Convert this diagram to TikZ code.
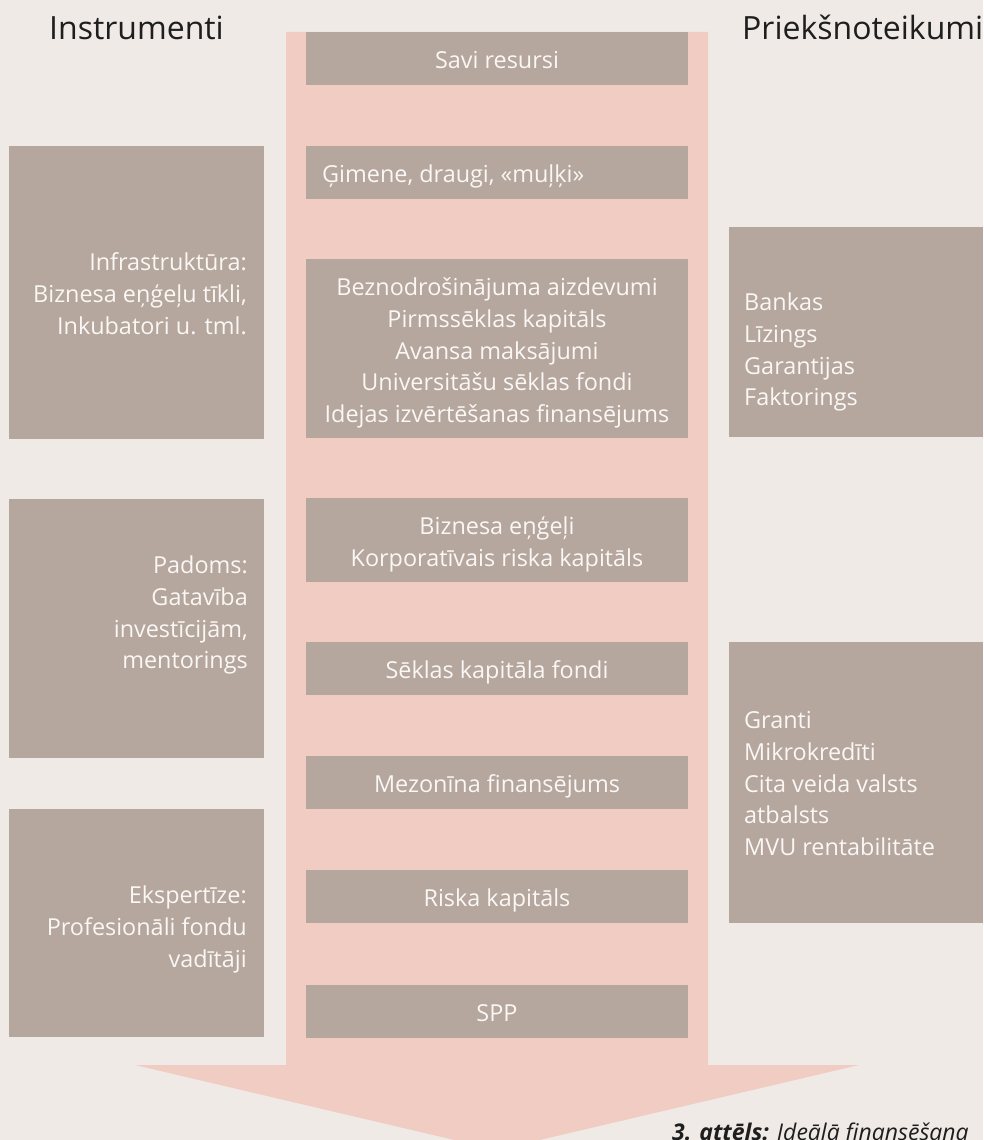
\documentclass[tikz,border=0pt]{standalone}
\usepackage{fontspec}
\setmainfont{Open Sans}
\usetikzlibrary{calc}
\definecolor{bgc}{HTML}{EFEAE6}
\definecolor{arrowc}{HTML}{F0CCC3}
\definecolor{boxc}{HTML}{B5A69E}
\definecolor{txtw}{HTML}{FAF7F5}
\definecolor{headc}{HTML}{1E1E1E}
\begin{document}
\begin{tikzpicture}[x=1pt,y=-1pt,
  box/.style={fill=boxc,draw=none,inner sep=0pt,outer sep=0pt,anchor=north west},
  onel/.style={inner sep=0pt,text=txtw,font=\fontsize{23.4}{31.7}\selectfont,text height=19pt,text depth=0pt},
  multil/.style={inner sep=0pt,text=txtw,font=\fontsize{23.4}{31.7}\selectfont},
  head/.style={inner sep=0pt,text=headc,font=\fontsize{32}{38}\selectfont,anchor=base west}]
\useasboundingbox (0,0) rectangle (983,1140);
\clip (0,0) rectangle (983,1140);
\fill[bgc] (0,0) rectangle (983,1140);
% big arrow
\fill[arrowc] (286,32) -- (708,32) -- (708,1065) -- (859,1065) -- (497,1150)
  -- (135,1065) -- (286,1065) -- cycle;
% headings
\node[head] (hl) at (49,40) {Instrumenti};
\node[head] (hr) at (742,40) {Priekšnoteikumi};
% centre boxes
\node[box,minimum width=382pt,minimum height=53pt] (cb1) at (306,32) {};
\node[box,minimum width=382pt,minimum height=53pt] (cb2) at (306,146) {};
\node[box,minimum width=382pt,minimum height=179pt] (cb3) at (306,259) {};
\node[box,minimum width=382pt,minimum height=84pt] (cb4) at (306,498) {};
\node[box,minimum width=382pt,minimum height=53pt] (cb5) at (306,642) {};
\node[box,minimum width=382pt,minimum height=53pt] (cb6) at (306,756) {};
\node[box,minimum width=382pt,minimum height=53pt] (cb7) at (306,870) {};
\node[box,minimum width=382pt,minimum height=53pt] (cb8) at (306,985) {};
% left boxes
\node[box,minimum width=255pt,minimum height=293pt] (lb1) at (9,146) {};
\node[box,minimum width=255pt,minimum height=259pt] (lb2) at (9,499) {};
\node[box,minimum width=255pt,minimum height=228pt] (lb3) at (9,809) {};
% right boxes
\node[box,minimum width=254pt,minimum height=210pt] (rb1) at (729,227) {};
\node[box,minimum width=254pt,minimum height=281pt] (rb2) at (729,642) {};
% centre texts
\node[onel] (t1) at (cb1.center) {Savi resursi};
\node[onel,anchor=west] (t2) at (322,172.5) {Ģimene, draugi, «muļķi»};
\node[multil,align=center,anchor=north] (t3) at (497,273.3)
  {\strut Beznodrošinājuma aizdevumi\\\strut Pirmssēklas kapitāls\\\strut Avansa maksājumi\\\strut Universitāšu sēklas fondi\\\strut Idejas izvērtēšanas finansējums};
\node[multil,align=center,anchor=north] (t4) at (497,512.3)
  {\strut Biznesa eņģeļi\\\strut Korporatīvais riska kapitāls};
\node[onel] (t5) at (cb5.center) {Sēklas kapitāla fondi};
\node[onel] (t6) at (cb6.center) {Mezonīna finansējums};
\node[onel] (t7) at (cb7.center) {Riska kapitāls};
\node[onel] (t8) at (cb8.center) {SPP};
% left texts
\node[multil,align=right,anchor=north east] (l1) at (247,248.3)
  {\strut Infrastruktūra:\\\strut Biznesa eņģeļu tīkli,\\\strut Inkubatori u. tml.};
\node[multil,align=right,anchor=north east] (l2) at (248,551.3)
  {\strut Padoms:\\\strut Gatavība\\\strut investīcijām,\\\strut mentorings};
\node[multil,align=right,anchor=north east] (l3) at (247,881.3)
  {\strut Ekspertīze:\\\strut Profesionāli fondu\\\strut vadītāji};
% right texts
\node[multil,align=left,anchor=north west] (r1) at (744,288.3)
  {\strut Bankas\\\strut Līzings\\\strut Garantijas\\\strut Faktorings};
\node[multil,align=left,anchor=north west] (r2) at (744,706.3)
  {\strut Granti\\\strut Mikrokredīti\\\strut Cita veida valsts\\\strut atbalsts\\\strut MVU rentabilitāte};
% caption
\node[inner sep=0pt,anchor=base west,text=headc,font=\fontsize{23}{28}\selectfont] (cap) at (672,1140)
  {\textbf{\textit{3. attēls:}} \textit{Ideālā finansēšana}};
\end{tikzpicture}
\end{document}
